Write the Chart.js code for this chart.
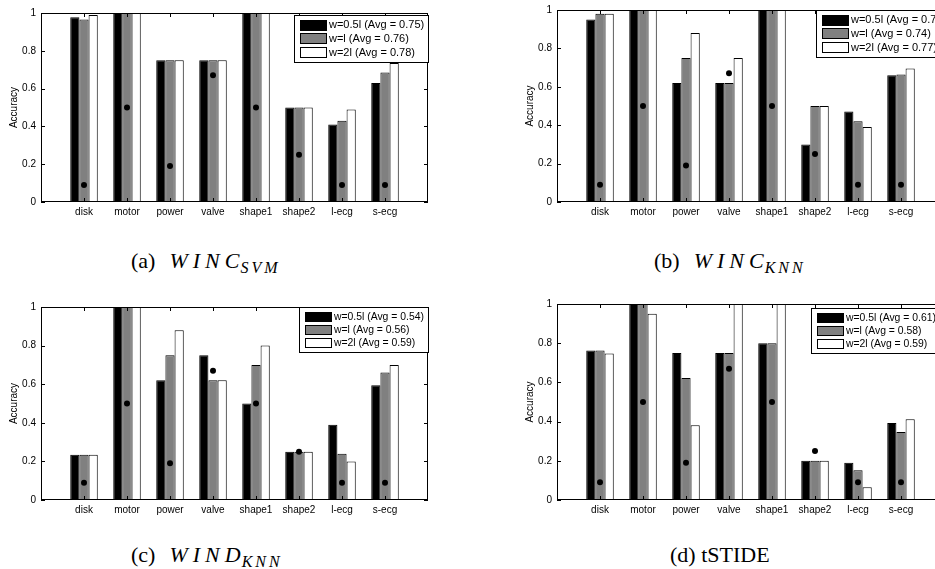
<!DOCTYPE html>
<html>
<head>
<meta charset="utf-8">
<script src="https://cdn.jsdelivr.net/npm/chart.js@4.4.0/dist/chart.umd.min.js"></script>
<style>
  html, body { margin: 0; padding: 0; background: #fff; }
  body { width: 935px; height: 569px; position: relative; overflow: hidden; }
  canvas { position: absolute; }
  .cap { position: absolute; font-family: "Liberation Serif", "DejaVu Serif", serif; font-size: 22px; line-height: 24px; color: #000; white-space: nowrap; }
  .cap i { letter-spacing: 5px; margin-left: 14px; }
  .cap sub { font-size: 16px; font-style: italic; letter-spacing: 3px; vertical-align: -5px; line-height: 0; margin-left: -4px; }
</style>
</head>
<body>
<canvas id="wincSvm" width="450" height="240" style="left:0;top:0"></canvas>
<canvas id="wincKnn" width="450" height="240" style="left:516px;top:0"></canvas>
<canvas id="windKnn" width="450" height="240" style="left:0;top:290px"></canvas>
<canvas id="tstide" width="450" height="240" style="left:516px;top:290px"></canvas>

<div class="cap" style="left:131px;top:249px">(a)<i>WINC</i><sub>SVM</sub></div>
<div class="cap" style="left:654px;top:249px">(b)<i>WINC</i><sub>KNN</sub></div>
<div class="cap" style="left:131px;top:543px">(c)<i>WIND</i><sub>KNN</sub></div>
<div class="cap" style="left:670px;top:543px">(d) tSTIDE</div>

<script>
var categories = ['disk', 'motor', 'power', 'valve', 'shape1', 'shape2', 'l-ecg', 's-ecg'];
var yTicks = [0, 0.2, 0.4, 0.6, 0.8, 1];
var windowNames = ['w=0.5l', 'w=l', 'w=2l'];

// black dots, same in every panel
var refLevel = [0.09, 0.5, 0.19, 0.67, 0.5, 0.25, 0.09, 0.09];

var wincSvmHalf = [0.978, 1, 0.75, 0.75, 1, 0.5, 0.41, 0.63];
var wincSvmOne  = [0.965, 1, 0.75, 0.75, 1, 0.5, 0.43, 0.685];
var wincSvmTwo  = [0.99, 1, 0.75, 0.75, 1, 0.5, 0.49, 0.735];
var wincSvmAvg  = ['0.75', '0.76', '0.78'];

var wincKnnHalf = [0.95, 1, 0.62, 0.62, 1, 0.3, 0.472, 0.66];
var wincKnnOne  = [0.98, 1, 0.75, 0.62, 1, 0.5, 0.42, 0.664];
var wincKnnTwo  = [0.98, 1, 0.88, 0.75, 1, 0.5, 0.39, 0.695];
var wincKnnAvg  = ['0.70', '0.74', '0.77'];

var windKnnHalf = [0.235, 1, 0.62, 0.75, 0.5, 0.25, 0.39, 0.595];
var windKnnOne  = [0.235, 1, 0.75, 0.62, 0.7, 0.25, 0.24, 0.66];
var windKnnTwo  = [0.235, 1, 0.88, 0.62, 0.8, 0.25, 0.2, 0.7];
var windKnnAvg  = ['0.54', '0.56', '0.59'];

var tstideHalf = [0.763, 1, 0.75, 0.75, 0.8, 0.2, 0.19, 0.393];
var tstideOne  = [0.763, 1, 0.622, 0.75, 0.8, 0.2, 0.152, 0.347];
var tstideTwo  = [0.747, 0.95, 0.381, 1, 1, 0.2, 0.065, 0.412];
var tstideAvg  = ['0.61', '0.58', '0.59'];

var barColors = ['#000000', '#808080', '#ffffff'];
var FONT = '"Liberation Sans", Arial, sans-serif';

var panels = [
  { id: 'wincSvm', top: 13, bottom: 202, series: [wincSvmHalf, wincSvmOne, wincSvmTwo], avg: wincSvmAvg, legend: { x: 253, y: 2, size: 11 } },
  { id: 'wincKnn', top: 10, bottom: 202, series: [wincKnnHalf, wincKnnOne, wincKnnTwo], avg: wincKnnAvg, legend: { x: 259, y: 0, size: 11 } },
  { id: 'windKnn', top: 17, bottom: 210, series: [windKnnHalf, windKnnOne, windKnnTwo], avg: windKnnAvg, legend: { x: 258, y: 0, size: 10.4 } },
  { id: 'tstide',  top: 14, bottom: 210, series: [tstideHalf, tstideOne, tstideTwo], avg: tstideAvg, legend: { x: 254, y: 4, size: 10.4 } }
];

// empty slot on each side of the categories
function pad(arr) { return [null].concat(arr, [null]); }

// matlab-style box with inward ticks
var axesBox = {
  id: 'axesBox',
  afterDatasetsDraw: function (chart) {
    var a = chart.chartArea, c = chart.ctx, xs = chart.scales.x, ys = chart.scales.y;
    c.save();
    c.strokeStyle = '#000';
    c.lineWidth = 1;
    c.strokeRect(a.left + 0.5, a.top + 0.5, a.right - a.left - 1, a.bottom - a.top - 1);
    c.beginPath();
    categories.forEach(function (_, i) {
      var x = Math.round(xs.getPixelForValue(i + 1)) + 0.5;
      c.moveTo(x, a.top); c.lineTo(x, a.top + 4);
      c.moveTo(x, a.bottom); c.lineTo(x, a.bottom - 4);
    });
    yTicks.forEach(function (v) {
      var y = Math.round(ys.getPixelForValue(v)) + 0.5;
      c.moveTo(a.left, y); c.lineTo(a.left + 4, y);
      c.moveTo(a.right, y); c.lineTo(a.right - 4, y);
    });
    c.stroke();
    c.restore();
  }
};

var boxLegend = {
  id: 'boxLegend',
  afterDraw: function (chart, args, opts) {
    var c = chart.ctx, a = chart.chartArea;
    var bars = chart.data.datasets.filter(function (d) { return d.type !== 'line'; });
    c.save();
    c.font = opts.size + 'px ' + FONT;
    var textW = Math.max.apply(null, bars.map(function (d) { return c.measureText(d.label).width; }));
    var rowH = opts.size * 1.25, padY = 3, swW = 27, swH = rowH - 3;
    var x = Math.round(a.left + opts.x), y = Math.round(a.top + opts.y);
    var w = Math.round(6 + swW + 2 + textW + 4), h = Math.round(bars.length * rowH + 2 * padY);
    c.fillStyle = '#fff';
    c.fillRect(x, y, w, h);
    c.strokeStyle = '#000';
    c.lineWidth = 1;
    c.strokeRect(x + 0.5, y + 0.5, w, h);
    c.textBaseline = 'middle';
    bars.forEach(function (d, i) {
      var cy = y + padY + rowH * (i + 0.5);
      var sy = Math.round(cy - swH / 2);
      c.fillStyle = d.backgroundColor;
      c.fillRect(x + 6, sy, swW, Math.round(swH));
      c.strokeRect(x + 6.5, sy + 0.5, swW - 1, Math.round(swH) - 1);
      c.fillStyle = '#000';
      c.fillText(d.label, x + 6 + swW + 2, cy + 0.5);
    });
    c.restore();
  }
};

panels.forEach(function (p) {
  var ctx = document.getElementById(p.id).getContext('2d');
  var datasets = [{
    type: 'line',
    data: pad(refLevel),
    showLine: false,
    pointRadius: 3,
    pointBackgroundColor: '#000',
    pointBorderWidth: 0,
    order: 0
  }];
  p.series.forEach(function (vals, i) {
    datasets.push({
      label: windowNames[i] + ' (Avg = ' + p.avg[i] + ')',
      data: pad(vals),
      backgroundColor: barColors[i],
      borderColor: '#000',
      borderWidth: 1,
      order: 1
    });
  });

  new Chart(ctx, {
    type: 'bar',
    data: {
      labels: [''].concat(categories, ['']),
      datasets: datasets
    },
    options: {
      responsive: false,
      animation: false,
      layout: { padding: { left: 0, right: 22, top: p.top, bottom: 240 - p.bottom - 20 } },
      datasets: { bar: { categoryPercentage: 0.64, barPercentage: 1, borderSkipped: 'start' } },
      plugins: {
        legend: { display: false },
        tooltip: { enabled: false },
        boxLegend: p.legend
      },
      scales: {
        x: {
          offset: false,
          grid: { display: false, drawTicks: false },
          border: { display: false },
          ticks: { autoSkip: false, maxRotation: 0, padding: 4, color: '#000', font: { family: FONT, size: 10 } },
          afterFit: function (s) { s.height = 20; s.paddingLeft = 0; s.paddingRight = 0; }
        },
        y: {
          min: 0,
          max: 1,
          grid: { display: false, drawTicks: false },
          border: { display: false },
          afterBuildTicks: function (s) { s.ticks = yTicks.map(function (v) { return { value: v }; }); },
          ticks: {
            padding: 5,
            color: '#000',
            font: { family: FONT, size: 10 },
            callback: function (v) { return String(Math.round(v * 10) / 10); }
          },
          title: { display: true, text: 'Accuracy', color: '#000', font: { family: FONT, size: 10 }, padding: { top: 8, bottom: 0 } },
          afterFit: function (s) { s.width = 41; s.paddingTop = 0; s.paddingBottom = 0; }
        }
      }
    },
    plugins: [axesBox, boxLegend]
  });
});
</script>
</body>
</html>
